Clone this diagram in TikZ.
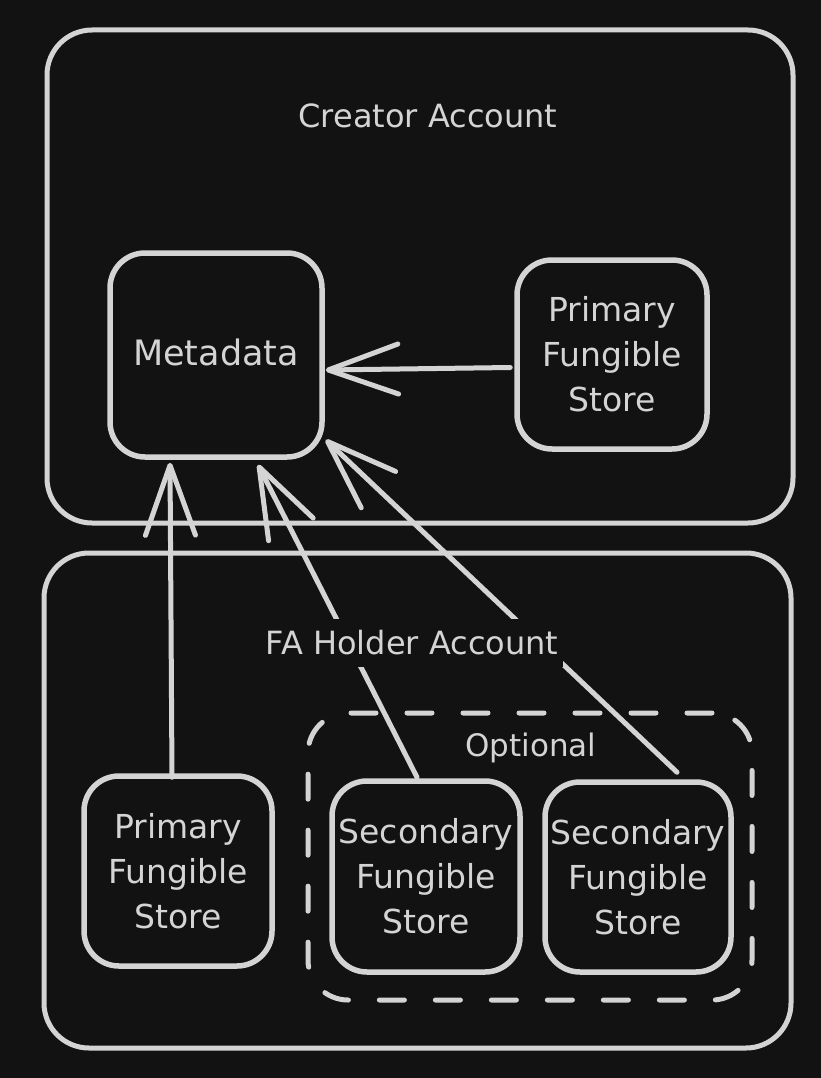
\documentclass[tikz,border=0pt]{standalone}
\usepackage{fontspec}
\setmainfont{DejaVu Sans}
\usetikzlibrary{arrows.meta}
\definecolor{bgc}{HTML}{121212}
\definecolor{ink}{HTML}{D4D4D4}
\tikzset{
  account/.style={draw=ink, line width=5pt, rounded corners=45pt, rectangle},
  store/.style={draw=ink, line width=5.5pt, rounded corners=35pt, rectangle, text=ink, align=center,
    font=\fontsize{33}{45}\selectfont, inner sep=0pt},
  optbox/.style={draw=ink, line width=5pt, rounded corners=40pt, dash pattern=on 25pt off 31pt, line cap=round},
  lbl/.style={text=ink, font=\fontsize{32}{40}\selectfont, inner sep=0pt},
  link/.style={draw=ink, line width=5pt, line cap=round,
    -{Straight Barb[length=70pt,width=50pt,round]}}
}
\begin{document}
\begin{tikzpicture}[x=1pt,y=-1pt]
\fill[bgc] (0,0) rectangle (821,1078);
\useasboundingbox (0,0) rectangle (821,1078);

% account boxes
\node[account, minimum width=746pt, minimum height=493pt] (creator) at (420,276.5) {};
\node[account, minimum width=747pt, minimum height=495pt] (holder) at (417.5,800.5) {};
\node[lbl] (creatorlbl) at (428,116) {Creator Account};

% optional dashed group
\node[optbox, minimum width=444pt, minimum height=287pt] (opt) at (530,856.5) {};
\node[lbl, font=\fontsize{31}{40}\selectfont] (optlbl) at (531,748) {Optional};

% stores
\node[store, font=\fontsize{35}{45}\selectfont, minimum width=212pt, minimum height=204pt] (meta) at (216,355) {\raisebox{6pt}{Metadata}};
\node[store, minimum width=190pt, minimum height=189pt] (pfsA) at (612,354.5) {Primary\\Fungible\\Store};
\node[store, minimum width=188pt, minimum height=190pt] (pfsB) at (178,871) {Primary\\Fungible\\Store};
\node[store, minimum width=188pt, minimum height=191pt] (sfsA) at (426,876.5) {Secondary\\Fungible\\Store};
\node[store, minimum width=186pt, minimum height=190pt] (sfsB) at (638,877) {Secondary\\Fungible\\Store};

% connectors
\draw[link] ([xshift=-4pt,yshift=-13pt]pfsA.west) -- ([xshift=1pt,yshift=-15pt]meta.east);
\draw[link] ([xshift=-6pt,yshift=-4pt]pfsB.north) -- ([xshift=-46pt,yshift=-3pt]meta.south);
\draw[link] ([xshift=-9pt,yshift=1pt]sfsA.north) -- ([xshift=42pt,yshift=-5pt]meta.south);
\draw[link] ([xshift=39pt,yshift=7pt]sfsB.north) -- ([xshift=1pt,yshift=20pt]meta.south east);

% holder label masks the connectors
\node[lbl, fill=bgc, inner xsep=5pt, inner ysep=12pt] (holderlbl) at (412,643) {FA Holder Account};
\end{tikzpicture}
\end{document}
